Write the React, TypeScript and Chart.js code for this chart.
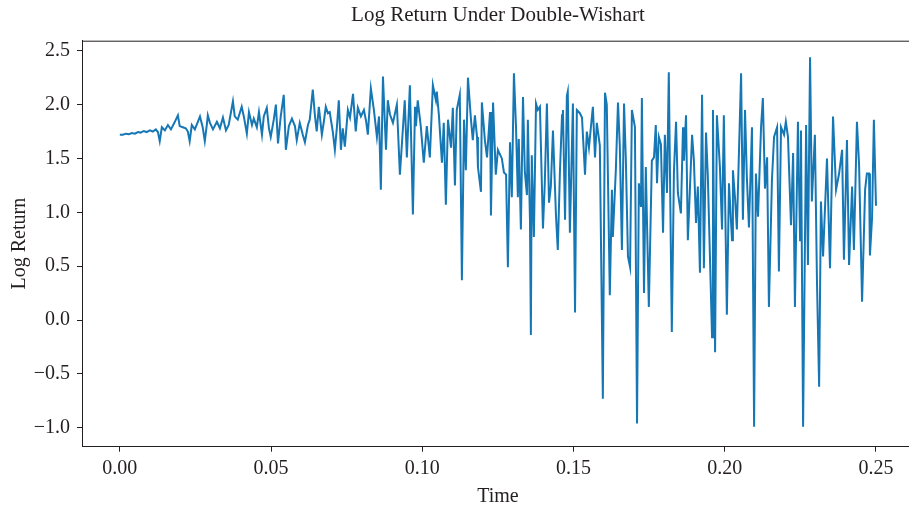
import React, { useEffect, useRef } from "react";
import { Chart, registerables } from "chart.js";

Chart.register(...registerables);

const TITLE = "Log Return Under Double-Wishart";
const X_LABEL = "Time";
const Y_LABEL = "Log Return";

const xTicks = [0, 0.05, 0.1, 0.15, 0.2, 0.25];
const yTicks = [-1.0, -0.5, 0.0, 0.5, 1.0, 1.5, 2.0, 2.5];

const times = [
  0.0, 0.001, 0.002, 0.003, 0.004, 0.005, 0.006, 0.0069, 0.0079, 0.0089,
  0.0099, 0.0109, 0.0119, 0.0126, 0.0132, 0.0139, 0.0149, 0.0159, 0.0169, 0.0182,
  0.0192, 0.0198, 0.0208, 0.0218, 0.0225, 0.0231, 0.0238, 0.0248, 0.0258, 0.0265,
  0.0274, 0.0281, 0.0288, 0.0291, 0.0298, 0.0308, 0.0321, 0.0331, 0.0341, 0.0351,
  0.036, 0.0374, 0.038, 0.039, 0.0403, 0.041, 0.042, 0.0427, 0.0437, 0.0443,
  0.0453, 0.046, 0.047, 0.0476, 0.0486, 0.0493, 0.0499, 0.0509, 0.0516, 0.0523,
  0.0532, 0.0542, 0.0549, 0.0559, 0.0569, 0.0579, 0.0585, 0.0595, 0.0605, 0.0612,
  0.0622, 0.0628, 0.0638, 0.0645, 0.0651, 0.0658, 0.0668, 0.0675, 0.0681, 0.0688,
  0.0694, 0.0704, 0.0711, 0.0718, 0.0724, 0.0731, 0.0737, 0.0744, 0.0754, 0.0761,
  0.0771, 0.078, 0.0787, 0.0797, 0.0807, 0.0814, 0.082, 0.083, 0.084, 0.085,
  0.0857, 0.0863, 0.087, 0.088, 0.0886, 0.0893, 0.0903, 0.0916, 0.0926, 0.0933,
  0.0942, 0.0949, 0.0959, 0.0969, 0.0976, 0.0979, 0.0985, 0.0995, 0.1005, 0.1015,
  0.1025, 0.1035, 0.1045, 0.1048, 0.1055, 0.1065, 0.1071, 0.1078, 0.1085, 0.1095,
  0.1101, 0.1108, 0.1114, 0.1124, 0.1131, 0.1138, 0.1144, 0.1151, 0.1161, 0.1167,
  0.1174, 0.1181, 0.1184, 0.1194, 0.1197, 0.1207, 0.1214, 0.1224, 0.1227, 0.1234,
  0.1243, 0.125, 0.1263, 0.127, 0.1277, 0.1283, 0.129, 0.1296, 0.1303, 0.131,
  0.1316, 0.1319, 0.1326, 0.1333, 0.1339, 0.1346, 0.1349, 0.1356, 0.1359, 0.1362,
  0.1369, 0.1376, 0.1382, 0.1389, 0.1399, 0.1405, 0.1412, 0.1419, 0.1425, 0.1432,
  0.1442, 0.1448, 0.1455, 0.1462, 0.1465, 0.1472, 0.1478, 0.1481, 0.1488, 0.1498,
  0.1505, 0.1511, 0.1521, 0.1528, 0.1538, 0.1544, 0.1551, 0.1564, 0.1571, 0.1577,
  0.1587, 0.1597, 0.1604, 0.161, 0.162, 0.1627, 0.163, 0.164, 0.1647, 0.1653,
  0.166, 0.1667, 0.1673, 0.168, 0.1687, 0.1693, 0.1703, 0.171, 0.1716, 0.1723,
  0.1726, 0.1733, 0.1739, 0.1749, 0.1759, 0.1766, 0.1772, 0.1776, 0.1782, 0.1789,
  0.1796, 0.1802, 0.1809, 0.1815, 0.1825, 0.1832, 0.1839, 0.1845, 0.1855, 0.1862,
  0.1865, 0.1872, 0.1878, 0.1892, 0.1898, 0.1905, 0.1911, 0.1918, 0.1925, 0.1931,
  0.1938, 0.1944, 0.1958, 0.1961, 0.1968, 0.1974, 0.1984, 0.1991, 0.1997, 0.2007,
  0.2014, 0.2024, 0.2027, 0.2034, 0.204, 0.2054, 0.206, 0.2067, 0.2073, 0.208,
  0.209, 0.2097, 0.2103, 0.211, 0.212, 0.2126, 0.2133, 0.214, 0.2146, 0.2156,
  0.2163, 0.2173, 0.2179, 0.2186, 0.2196, 0.2202, 0.2209, 0.2219, 0.2226, 0.2232,
  0.2242, 0.2249, 0.2252, 0.2259, 0.2269, 0.2275, 0.2282, 0.2288, 0.2298, 0.2305,
  0.2312, 0.2318, 0.2325, 0.2338, 0.2348, 0.2358, 0.2368, 0.2378, 0.2388, 0.2394,
  0.2404, 0.2411, 0.2421, 0.2427, 0.2437, 0.2444, 0.2454, 0.2464, 0.247, 0.2477,
  0.248, 0.2487, 0.2493, 0.25,
];

const logReturn = [
  1.72, 1.72, 1.73, 1.725, 1.735, 1.73, 1.745, 1.74, 1.755, 1.745,
  1.76, 1.75, 1.77, 1.745, 1.66, 1.79, 1.76, 1.81, 1.77, 1.84,
  1.9, 1.8, 1.79, 1.78, 1.75, 1.66, 1.81, 1.77, 1.84, 1.89,
  1.79, 1.66, 1.82, 1.9, 1.83, 1.77, 1.84, 1.78, 1.88, 1.76,
  1.81, 2.03, 1.89, 1.86, 1.98, 1.89, 1.73, 1.93, 1.81, 1.87,
  1.79, 1.93, 1.72, 1.89, 1.97, 1.78, 1.7, 1.86, 2.0, 1.64,
  1.89, 2.09, 1.58, 1.8, 1.87, 1.8, 1.67, 1.83, 1.72, 1.65,
  1.81, 1.86, 2.14, 1.9, 1.75, 1.98, 1.72, 1.85, 1.98, 1.92,
  1.93, 1.75, 1.58, 1.8, 2.04, 1.58, 1.78, 1.61, 1.95, 1.88,
  2.1, 1.75, 1.97, 1.89, 1.95, 1.85, 1.72, 2.15, 1.95, 1.7,
  1.89, 1.21, 2.26, 1.58, 2.04, 1.91, 1.83, 2.0, 1.35, 1.65,
  2.04, 1.51, 2.18, 0.98, 1.98, 1.8, 2.04, 1.8, 1.46, 1.8,
  1.51, 2.18, 2.04, 2.12, 1.9, 1.46, 1.83, 1.07, 1.86, 1.6,
  1.97, 1.25, 1.95, 2.09, 0.37, 1.86, 1.39, 2.25, 1.86, 1.67,
  1.9, 1.7, 1.42, 1.19, 2.02, 1.67, 1.51, 1.93, 0.97, 2.02,
  1.35, 1.58, 1.5, 1.37, 1.35, 0.49, 1.65, 1.14, 2.29, 1.78,
  1.14, 1.68, 0.84, 2.07, 1.38, 1.16, 1.86, 0.93, -0.14, 1.53,
  0.77, 2.01, 1.95, 1.98, 0.85, 1.27, 2.01, 1.09, 1.24, 1.76,
  0.97, 0.65, 1.37, 1.9, 1.95, 0.93, 2.08, 2.12, 0.81, 2.01,
  0.07, 1.95, 1.92, 1.88, 1.35, 1.75, 1.6, 1.98, 1.51, 1.83,
  1.62, -0.73, 2.11, 2.0, 0.23, 1.21, 0.77, 1.4, 2.02, 1.62,
  0.65, 2.01, 1.49, 0.59, 0.49, 1.95, 1.79, -0.96, 1.27, 1.05,
  2.06, 0.25, 1.42, 0.12, 1.48, 1.51, 1.81, 1.27, 1.7, 1.63,
  0.81, 1.72, 1.18, 2.3, -0.11, 1.38, 1.84, 1.18, 0.99, 1.79,
  1.48, 1.9, 0.74, 1.72, 1.48, 0.9, 1.24, 0.44, 2.09, 0.48,
  1.74, 1.34, -0.16, 1.95, -0.3, 1.9, 1.42, 0.84, 1.9, 0.05,
  1.27, 0.74, 1.39, 1.13, 0.84, 2.29, 0.93, 1.95, 1.33, 0.86,
  1.79, -0.99, 1.36, 0.96, 1.79, 2.06, 1.22, 1.51, 0.12, 1.3,
  1.7, 1.79, 0.45, 1.79, 1.72, 1.84, 1.7, 0.88, 1.55, 0.12,
  1.84, 0.74, 1.76, -0.99, 1.81, 0.51, 2.44, 1.1, 1.72, 0.34,
  -0.62, 1.1, 0.59, 1.5, 0.48, 1.89, 1.21, 1.36, 1.58, 0.56,
  1.67, 0.51, 1.24, 0.65, 1.84, 1.45, 0.17, 1.21, 1.36, 1.36,
  0.6, 0.95, 1.86, 1.06,
];

const FONT_FAMILY = "'Liberation Serif', 'Times New Roman', serif";
const TEXT_COLOR = "#231f20";
const LINE_COLOR = "#1677b5";

const framePlugin = {
  id: "frame",
  afterDraw(chart: any) {
    const { ctx, chartArea } = chart;
    ctx.save();
    ctx.strokeStyle = TEXT_COLOR;
    ctx.lineWidth = 1;
    ctx.beginPath();
    ctx.moveTo(chartArea.left, chartArea.top + 0.5);
    ctx.lineTo(chartArea.right, chartArea.top + 0.5);
    ctx.moveTo(chartArea.right - 0.5, chartArea.top);
    ctx.lineTo(chartArea.right - 0.5, chartArea.bottom);
    ctx.stroke();
    ctx.restore();
  },
};

export default function App() {
  const canvasRef = useRef<HTMLCanvasElement | null>(null);

  useEffect(() => {
    const canvas = canvasRef.current;
    if (!canvas) return;
    const points = times.map((t, i) => ({ x: t, y: logReturn[i] }));
    const chart = new Chart(canvas, {
      type: "line",
      data: {
        datasets: [
          {
            data: points,
            borderColor: LINE_COLOR,
            borderWidth: 2,
            pointRadius: 0,
            tension: 0,
            fill: false,
          },
        ],
      },
      options: {
        animation: false,
        responsive: false,
        devicePixelRatio: 1,
        layout: { padding: { left: 0, right: 6.2, top: 0, bottom: 0 } },
        plugins: {
          legend: { display: false },
          tooltip: { enabled: false },
          title: {
            display: true,
            fullSize: false,
            text: TITLE,
            color: TEXT_COLOR,
            font: { family: FONT_FAMILY, size: 21, weight: "normal" },
            padding: { top: 3, bottom: 12.5 },
          },
        },
        scales: {
          x: {
            type: "linear",
            min: -0.0125,
            max: 0.2625,
            afterBuildTicks: (scale: any) => {
              scale.ticks = xTicks.map((v) => ({ value: v }));
            },
            afterFit: (scale: any) => {
              scale.height = 64.3;
            },
            ticks: {
              color: TEXT_COLOR,
              font: { family: FONT_FAMILY, size: 20 },
              padding: 5,
              maxRotation: 0,
              autoSkip: false,
              callback: (v: any) => Number(v).toFixed(2),
            },
            grid: {
              drawOnChartArea: false,
              drawTicks: true,
              tickLength: 5,
              tickColor: TEXT_COLOR,
            },
            border: { display: true, color: TEXT_COLOR, width: 1 },
            title: {
              display: true,
              text: X_LABEL,
              color: TEXT_COLOR,
              font: { family: FONT_FAMILY, size: 20 },
              padding: { top: 0, bottom: 2 },
            },
          },
          y: {
            type: "linear",
            min: -1.176,
            max: 2.593,
            afterBuildTicks: (scale: any) => {
              scale.ticks = yTicks.map((v) => ({ value: v }));
            },
            afterFit: (scale: any) => {
              scale.width = 82;
            },
            ticks: {
              color: TEXT_COLOR,
              font: { family: FONT_FAMILY, size: 20 },
              padding: 7,
              autoSkip: false,
              callback: (v: any) => {
                const n = Number(v);
                const s = Math.abs(n).toFixed(1);
                return n < 0 ? "\u2212" + s : s;
              },
            },
            grid: {
              drawOnChartArea: false,
              drawTicks: true,
              tickLength: 5,
              tickColor: TEXT_COLOR,
            },
            border: { display: true, color: TEXT_COLOR, width: 1 },
            title: {
              display: true,
              text: Y_LABEL,
              color: TEXT_COLOR,
              font: { family: FONT_FAMILY, size: 20 },
              padding: { top: 8, bottom: 0 },
            },
          },
        },
      },
      plugins: [framePlugin],
    });
    return () => chart.destroy();
  }, []);

  return (
    <div
      style={{
        position: "absolute",
        left: 0,
        top: 0,
        width: 909,
        height: 511,
        overflow: "hidden",
        background: "#ffffff",
      }}
    >
      <canvas ref={canvasRef} width={920} height={511} style={{ display: "block" }} />
    </div>
  );
}
